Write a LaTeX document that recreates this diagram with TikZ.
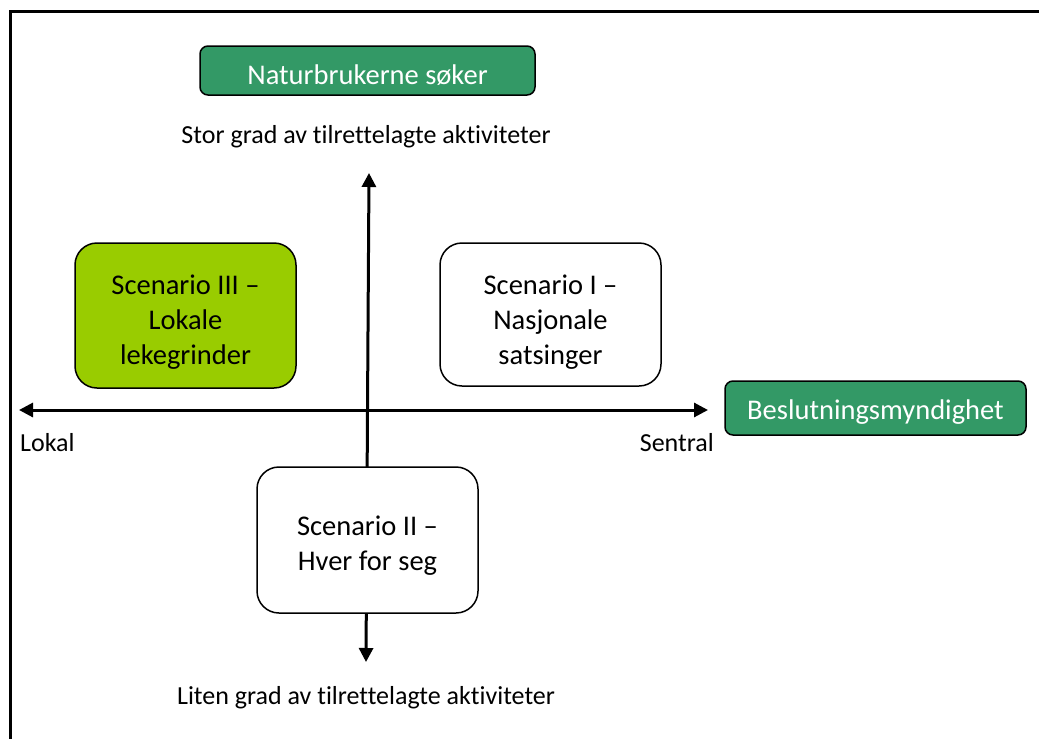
\documentclass[tikz,border=0pt]{standalone}
\usepackage{fontspec}
\setmainfont{Carlito}[Ligatures={NoCommon}]
\definecolor{dgreen}{RGB}{51,153,102}
\definecolor{lgreen}{RGB}{153,204,0}
\tikzset{
  box/.style={draw=black, line width=1.5pt, rounded corners=22pt},
  boxtext/.style={align=center, font=\fontsize{28.5}{35}\selectfont},
  tag/.style={draw=black, line width=1.5pt, rounded corners=8pt, fill=dgreen},
  tagtext/.style={text=white, font=\fontsize{28.5}{32}\selectfont},
  lbl/.style={font=\fontsize{26}{30}\selectfont, inner sep=0pt},
  axis/.style={line width=3pt, -{Triangle[length=14pt,width=14pt]}},
}
\usetikzlibrary{arrows.meta}
\begin{document}
\begin{tikzpicture}[x=1pt,y=-1pt]
\useasboundingbox (0,0) rectangle (1039,739);
\draw[line width=3pt] (10,11) rectangle (1060,760);
% axes
\coordinate (vtop) at (369,173);
\coordinate (vbot) at (366,662);
\coordinate (hleft) at (19,410);
\coordinate (hright) at (708,410);
\coordinate (o) at (367.5,410);
\draw[axis] (o) -- (vtop);
\draw[axis] (o) -- (vbot);
\draw[axis] (o) -- (hleft);
\draw[axis] (o) -- (hright);
% boxes
\node[box, fill=lgreen, minimum width=221pt, minimum height=145pt] (s3) at (185.5,315.5) {};
\node[boxtext] (s3t) at (185.5,322) {Scenario III --\\Lokale\\lekegrinder};
\node[box, fill=white, minimum width=221pt, minimum height=143pt] (s1) at (550.5,314.5) {};
\node[boxtext] (s1t) at (550.5,322) {Scenario I --\\Nasjonale\\satsinger};
\node[box, fill=white, minimum width=221pt, minimum height=146pt] (s2) at (367.5,540) {};
\node[boxtext] (s2t) at (367.5,546) {Scenario II --\\Hver for seg};
\node[tag, minimum width=335pt, minimum height=49pt] (nat) at (367.5,70.5) {};
\node[tagtext] (natt) at (367.5,75) {Naturbrukerne søker};
\node[tag, minimum width=301pt, minimum height=54pt] (bes) at (875.5,408) {};
\node[tagtext] (best) at (875.5,412) {Beslutningsmyndighet};
% labels
\node[lbl] (stor) at (366,137) {Stor grad av tilrettelagte aktiviteter};
\node[lbl] (liten) at (366,698) {Liten grad av tilrettelagte aktiviteter};
\node[lbl, anchor=west] (lokal) at (20,443) {Lokal};
\node[lbl, anchor=east] (sentral) at (714,443) {Sentral};
\end{tikzpicture}
\end{document}
